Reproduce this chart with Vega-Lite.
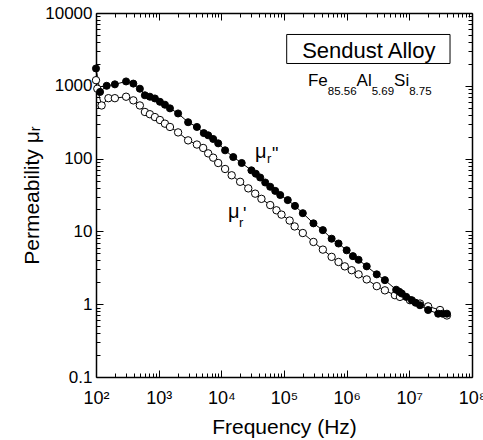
{
  "$schema": "https://vega.github.io/schema/vega-lite/v6.json",
  "width": 376,
  "height": 364,
  "autosize": {"type": "none"},
  "padding": {"left": 96, "top": 13, "right": 11, "bottom": 63},
  "background": "white",
  "datasets": {
    "series": [
      {"f": 100, "mu": 1730, "s": "dd"},
      {"f": 116, "mu": 824, "s": "dd"},
      {"f": 148, "mu": 1000, "s": "dd"},
      {"f": 200, "mu": 1047, "s": "dd"},
      {"f": 302, "mu": 1148, "s": "dd"},
      {"f": 394, "mu": 1072, "s": "dd"},
      {"f": 501, "mu": 912, "s": "dd"},
      {"f": 603, "mu": 741, "s": "dd"},
      {"f": 724, "mu": 708, "s": "dd"},
      {"f": 871, "mu": 670, "s": "dd"},
      {"f": 1047, "mu": 603, "s": "dd"},
      {"f": 1259, "mu": 550, "s": "dd"},
      {"f": 1514, "mu": 490, "s": "dd"},
      {"f": 2042, "mu": 417, "s": "dd"},
      {"f": 2951, "mu": 316, "s": "dd"},
      {"f": 4074, "mu": 272, "s": "dd"},
      {"f": 5248, "mu": 224, "s": "dd"},
      {"f": 6166, "mu": 209, "s": "dd"},
      {"f": 7413, "mu": 186, "s": "dd"},
      {"f": 8913, "mu": 162, "s": "dd"},
      {"f": 11482, "mu": 130, "s": "dd"},
      {"f": 15488, "mu": 105, "s": "dd"},
      {"f": 21135, "mu": 87, "s": "dd"},
      {"f": 30200, "mu": 69, "s": "dd"},
      {"f": 35481, "mu": 62, "s": "dd"},
      {"f": 41687, "mu": 55, "s": "dd"},
      {"f": 50119, "mu": 47, "s": "dd"},
      {"f": 60256, "mu": 41, "s": "dd"},
      {"f": 72444, "mu": 36, "s": "dd"},
      {"f": 87096, "mu": 31.6, "s": "dd"},
      {"f": 114815, "mu": 26.9, "s": "dd"},
      {"f": 149624, "mu": 22.4, "s": "dd"},
      {"f": 199526, "mu": 17.8, "s": "dd"},
      {"f": 295121, "mu": 12.9, "s": "dd"},
      {"f": 416869, "mu": 10.4, "s": "dd"},
      {"f": 575440, "mu": 7.94, "s": "dd"},
      {"f": 741310, "mu": 6.82, "s": "dd"},
      {"f": 1000000, "mu": 5.5, "s": "dd"},
      {"f": 1258925, "mu": 4.57, "s": "dd"},
      {"f": 1548817, "mu": 4.07, "s": "dd"},
      {"f": 2089296, "mu": 3.31, "s": "dd"},
      {"f": 3019952, "mu": 2.57, "s": "dd"},
      {"f": 4073803, "mu": 2.14, "s": "dd"},
      {"f": 6165950, "mu": 1.58, "s": "dd"},
      {"f": 6918310, "mu": 1.48, "s": "dd"},
      {"f": 7585776, "mu": 1.4, "s": "dd"},
      {"f": 8912509, "mu": 1.26, "s": "dd"},
      {"f": 10964782, "mu": 1.135, "s": "dd"},
      {"f": 12589254, "mu": 1.047, "s": "dd"},
      {"f": 14791084, "mu": 0.968, "s": "dd"},
      {"f": 19952623, "mu": 0.832, "s": "dd"},
      {"f": 28840315, "mu": 0.741, "s": "dd"},
      {"f": 33884416, "mu": 0.741, "s": "dd"},
      {"f": 39810717, "mu": 0.741, "s": "dd"},
      {"f": 100, "mu": 1194, "s": "d"},
      {"f": 105, "mu": 912, "s": "d"},
      {"f": 123, "mu": 537, "s": "d"},
      {"f": 158, "mu": 676, "s": "d"},
      {"f": 200, "mu": 676, "s": "d"},
      {"f": 302, "mu": 708, "s": "d"},
      {"f": 394, "mu": 631, "s": "d"},
      {"f": 501, "mu": 537, "s": "d"},
      {"f": 603, "mu": 437, "s": "d"},
      {"f": 724, "mu": 407, "s": "d"},
      {"f": 871, "mu": 372, "s": "d"},
      {"f": 1047, "mu": 339, "s": "d"},
      {"f": 1259, "mu": 302, "s": "d"},
      {"f": 1514, "mu": 272, "s": "d"},
      {"f": 2042, "mu": 229, "s": "d"},
      {"f": 2951, "mu": 178, "s": "d"},
      {"f": 4074, "mu": 156, "s": "d"},
      {"f": 5129, "mu": 140, "s": "d"},
      {"f": 6166, "mu": 118, "s": "d"},
      {"f": 7413, "mu": 103, "s": "d"},
      {"f": 8913, "mu": 87, "s": "d"},
      {"f": 11482, "mu": 72, "s": "d"},
      {"f": 14622, "mu": 59, "s": "d"},
      {"f": 19953, "mu": 48, "s": "d"},
      {"f": 26915, "mu": 39, "s": "d"},
      {"f": 34674, "mu": 33, "s": "d"},
      {"f": 43652, "mu": 28, "s": "d"},
      {"f": 60256, "mu": 23, "s": "d"},
      {"f": 75858, "mu": 19.5, "s": "d"},
      {"f": 91201, "mu": 17, "s": "d"},
      {"f": 123027, "mu": 14.1, "s": "d"},
      {"f": 147911, "mu": 11.7, "s": "d"},
      {"f": 199526, "mu": 9.5, "s": "d"},
      {"f": 295121, "mu": 7.16, "s": "d"},
      {"f": 416869, "mu": 5.62, "s": "d"},
      {"f": 575440, "mu": 4.47, "s": "d"},
      {"f": 741310, "mu": 3.8, "s": "d"},
      {"f": 933254, "mu": 3.31, "s": "d"},
      {"f": 1202264, "mu": 2.93, "s": "d"},
      {"f": 1548817, "mu": 2.57, "s": "d"},
      {"f": 2089296, "mu": 2.19, "s": "d"},
      {"f": 3019952, "mu": 1.77, "s": "d"},
      {"f": 4073803, "mu": 1.55, "s": "d"},
      {"f": 5888437, "mu": 1.33, "s": "d"},
      {"f": 7079458, "mu": 1.26, "s": "d"},
      {"f": 10232930, "mu": 1.135, "s": "d"},
      {"f": 14791084, "mu": 1.02, "s": "d"},
      {"f": 19952623, "mu": 0.933, "s": "d"},
      {"f": 30902954, "mu": 0.832, "s": "d"},
      {"f": 39810717, "mu": 0.7, "s": "d"}
    ],
    "box": [{"x1": 110400, "x2": 44600000, "y1": 5070, "y2": 2025}],
    "title": [{"x": 2254000, "y": 2432, "t": "Sendust Alloy"}],
    "formulaMain": [
      {"x": 241400, "y": 988, "t": "Fe"},
      {"x": 1439700, "y": 988, "t": "Al"},
      {"x": 5711000, "y": 988, "t": "Si"}
    ],
    "formulaSub": [
      {"x": 499600, "y": 743, "t": "85.56"},
      {"x": 2507000, "y": 743, "t": "5.69"},
      {"x": 9945000, "y": 743, "t": "8.75"}
    ],
    "mu": [
      {"x": 34400, "y": 101, "t": "μ"},
      {"x": 12770, "y": 15.2, "t": "μ"}
    ],
    "musub": [
      {"x": 53600, "y": 86.5, "t": "r"},
      {"x": 19140, "y": 11.4, "t": "r"}
    ],
    "prime": [
      {"x": 64300, "y": 95, "t": "\""},
      {"x": 22200, "y": 14.3, "t": "'"}
    ]
  },
  "resolve": {
    "scale": {"x": "shared", "y": "shared"},
    "axis": {"x": "independent", "y": "independent"}
  },
  "layer": [
    {
      "data": {"name": "series"},
      "mark": {"type": "line", "color": "black", "strokeWidth": 1},
      "encoding": {
        "x": {
          "field": "f", "type": "quantitative",
          "scale": {"type": "log", "domain": [100, 100000000], "nice": false},
          "axis": {
            "orient": "bottom",
            "title": "Frequency (Hz)",
            "values": [100,200,300,400,500,600,700,800,900,1000,2000,3000,4000,5000,6000,7000,8000,9000,10000,20000,30000,40000,50000,60000,70000,80000,90000,100000,200000,300000,400000,500000,600000,700000,800000,900000,1000000,2000000,3000000,4000000,5000000,6000000,7000000,8000000,9000000,10000000,20000000,30000000,40000000,50000000,60000000,70000000,80000000,90000000,100000000],
            "labelExpr": "abs(log(datum.value)/LN10 - round(log(datum.value)/LN10)) < 0.001 ? '10' + substring('⁰¹²³⁴⁵⁶⁷⁸⁹', round(log(datum.value)/LN10), round(log(datum.value)/LN10) + 1) : ''",
            "tickSize": {"condition": {"test": "abs(log(datum.value)/LN10 - round(log(datum.value)/LN10)) < 0.001", "value": -7}, "value": -4},
            "labelPadding": 19,
            "titlePadding": 6
          }
        },
        "y": {
          "field": "mu", "type": "quantitative",
          "scale": {"type": "log", "domain": [0.1, 10000], "nice": false},
          "axis": {
            "orient": "left",
            "title": "Permeability μᵣ",
            "values": [0.1,0.2,0.3,0.4,0.5,0.6,0.7,0.8,0.9,1,2,3,4,5,6,7,8,9,10,20,30,40,50,60,70,80,90,100,200,300,400,500,600,700,800,900,1000,2000,3000,4000,5000,6000,7000,8000,9000,10000],
            "labelExpr": "abs(log(datum.value)/LN10 - round(log(datum.value)/LN10)) < 0.001 ? (datum.value < 1 ? '0.1' : format(datum.value, 'd')) : ''",
            "tickSize": {"condition": {"test": "abs(log(datum.value)/LN10 - round(log(datum.value)/LN10)) < 0.001", "value": -7}, "value": -4},
            "labelPadding": 11,
            "labelFontSize": 17,
            "titlePadding": 2
          }
        },
        "detail": {"field": "s"},
        "order": {"field": "f"}
      }
    },
    {
      "data": {"name": "series"},
      "transform": [{"filter": "datum.s == 'd'"}],
      "mark": {"type": "point", "shape": "circle", "filled": true, "fill": "white", "stroke": "black", "strokeWidth": 1, "size": 55, "opacity": 1},
      "encoding": {
        "x": {
          "field": "f", "type": "quantitative",
          "scale": {"type": "log", "domain": [100, 100000000], "nice": false},
          "axis": {
            "orient": "top", "title": null, "labels": false,
            "values": [100,200,300,400,500,600,700,800,900,1000,2000,3000,4000,5000,6000,7000,8000,9000,10000,20000,30000,40000,50000,60000,70000,80000,90000,100000,200000,300000,400000,500000,600000,700000,800000,900000,1000000,2000000,3000000,4000000,5000000,6000000,7000000,8000000,9000000,10000000,20000000,30000000,40000000,50000000,60000000,70000000,80000000,90000000,100000000],
            "tickSize": {"condition": {"test": "abs(log(datum.value)/LN10 - round(log(datum.value)/LN10)) < 0.001", "value": -7}, "value": -4}
          }
        },
        "y": {
          "field": "mu", "type": "quantitative",
          "scale": {"type": "log", "domain": [0.1, 10000], "nice": false},
          "axis": {
            "orient": "right", "title": null, "labels": false,
            "values": [0.1,0.2,0.3,0.4,0.5,0.6,0.7,0.8,0.9,1,2,3,4,5,6,7,8,9,10,20,30,40,50,60,70,80,90,100,200,300,400,500,600,700,800,900,1000,2000,3000,4000,5000,6000,7000,8000,9000,10000],
            "tickSize": {"condition": {"test": "abs(log(datum.value)/LN10 - round(log(datum.value)/LN10)) < 0.001", "value": -7}, "value": -4}
          }
        }
      }
    },
    {
      "data": {"name": "series"},
      "transform": [{"filter": "datum.s == 'dd'"}],
      "mark": {"type": "point", "shape": "circle", "filled": true, "fill": "black", "stroke": "black", "strokeWidth": 1, "size": 50, "opacity": 1},
      "encoding": {
        "x": {"field": "f", "type": "quantitative", "scale": {"type": "log", "domain": [100, 100000000], "nice": false}, "axis": null},
        "y": {"field": "mu", "type": "quantitative", "scale": {"type": "log", "domain": [0.1, 10000], "nice": false}, "axis": null}
      }
    },
    {
      "data": {"name": "box"},
      "mark": {"type": "rect", "fill": "white", "stroke": "black", "strokeWidth": 1},
      "encoding": {
        "x": {"field": "x1", "type": "quantitative", "scale": {"type": "log", "domain": [100, 100000000], "nice": false}, "axis": null},
        "x2": {"field": "x2"},
        "y": {"field": "y1", "type": "quantitative", "scale": {"type": "log", "domain": [0.1, 10000], "nice": false}, "axis": null},
        "y2": {"field": "y2"}
      }
    },
    {
      "data": {"name": "title"},
      "mark": {"type": "text", "font": "Liberation Sans", "fontSize": 22, "align": "center", "baseline": "alphabetic", "color": "black"},
      "encoding": {
        "x": {"field": "x", "type": "quantitative", "scale": {"type": "log", "domain": [100, 100000000], "nice": false}, "axis": null},
        "y": {"field": "y", "type": "quantitative", "scale": {"type": "log", "domain": [0.1, 10000], "nice": false}, "axis": null},
        "text": {"field": "t"}
      }
    },
    {
      "data": {"name": "formulaMain"},
      "mark": {"type": "text", "font": "Liberation Sans", "fontSize": 17, "align": "left", "baseline": "alphabetic", "color": "black"},
      "encoding": {
        "x": {"field": "x", "type": "quantitative", "scale": {"type": "log", "domain": [100, 100000000], "nice": false}, "axis": null},
        "y": {"field": "y", "type": "quantitative", "scale": {"type": "log", "domain": [0.1, 10000], "nice": false}, "axis": null},
        "text": {"field": "t"}
      }
    },
    {
      "data": {"name": "formulaSub"},
      "mark": {"type": "text", "font": "Liberation Sans", "fontSize": 11.5, "align": "left", "baseline": "alphabetic", "color": "black"},
      "encoding": {
        "x": {"field": "x", "type": "quantitative", "scale": {"type": "log", "domain": [100, 100000000], "nice": false}, "axis": null},
        "y": {"field": "y", "type": "quantitative", "scale": {"type": "log", "domain": [0.1, 10000], "nice": false}, "axis": null},
        "text": {"field": "t"}
      }
    },
    {
      "data": {"name": "mu"},
      "mark": {"type": "text", "font": "Liberation Sans", "fontSize": 20, "align": "left", "baseline": "alphabetic", "color": "black"},
      "encoding": {
        "x": {"field": "x", "type": "quantitative", "scale": {"type": "log", "domain": [100, 100000000], "nice": false}, "axis": null},
        "y": {"field": "y", "type": "quantitative", "scale": {"type": "log", "domain": [0.1, 10000], "nice": false}, "axis": null},
        "text": {"field": "t"}
      }
    },
    {
      "data": {"name": "musub"},
      "mark": {"type": "text", "font": "Liberation Sans", "fontSize": 13, "align": "left", "baseline": "alphabetic", "color": "black"},
      "encoding": {
        "x": {"field": "x", "type": "quantitative", "scale": {"type": "log", "domain": [100, 100000000], "nice": false}, "axis": null},
        "y": {"field": "y", "type": "quantitative", "scale": {"type": "log", "domain": [0.1, 10000], "nice": false}, "axis": null},
        "text": {"field": "t"}
      }
    },
    {
      "data": {"name": "prime"},
      "mark": {"type": "text", "font": "Liberation Sans", "fontSize": 18, "align": "left", "baseline": "alphabetic", "color": "black"},
      "encoding": {
        "x": {"field": "x", "type": "quantitative", "scale": {"type": "log", "domain": [100, 100000000], "nice": false}, "axis": null},
        "y": {"field": "y", "type": "quantitative", "scale": {"type": "log", "domain": [0.1, 10000], "nice": false}, "axis": null},
        "text": {"field": "t"}
      }
    }
  ],
  "config": {
    "view": {"stroke": null},
    "font": "Liberation Sans",
    "axis": {
      "grid": false,
      "domainColor": "black",
      "domainWidth": 1.5,
      "tickColor": "black",
      "tickWidth": 1,
      "labelColor": "black",
      "titleColor": "black",
      "labelFont": "Liberation Sans",
      "titleFont": "Liberation Sans",
      "labelFontSize": 18,
      "titleFontSize": 21,
      "titleFontWeight": "normal",
      "labelOverlap": false,
      "labelBound": false,
      "labelFlush": false
    }
  }
}
